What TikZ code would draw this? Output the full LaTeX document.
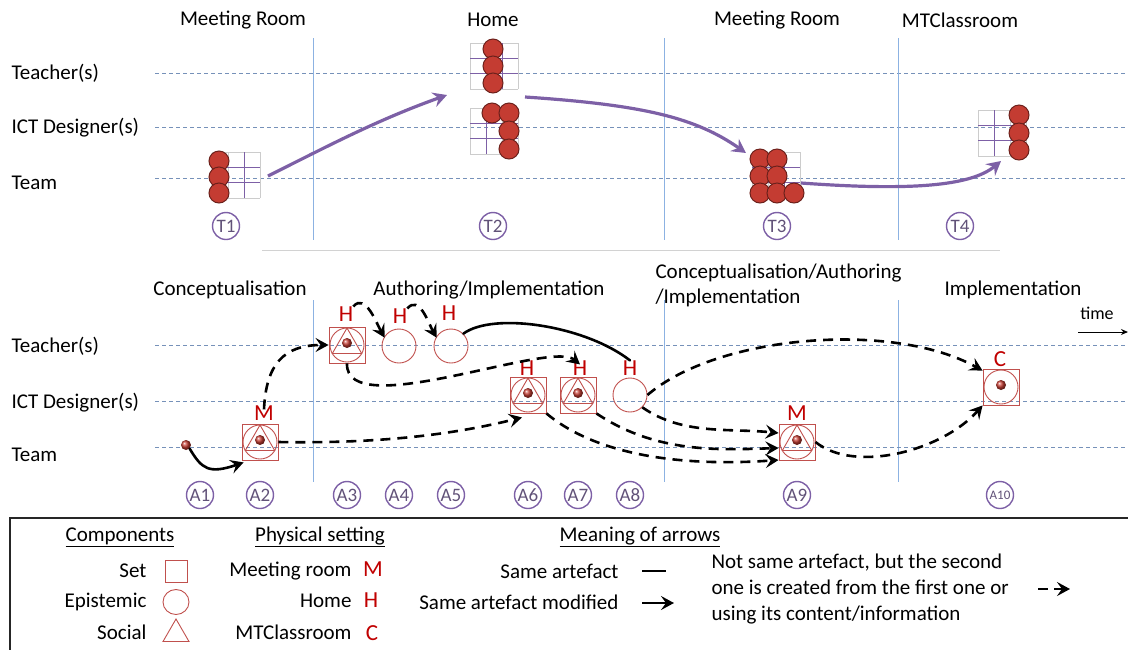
\documentclass[tikz,border=0pt]{standalone}
\usepackage{fontspec}
\setmainfont{Carlito}
\usetikzlibrary{arrows.meta,shapes.geometric,calc}

\definecolor{rowblue}{RGB}{118,145,185}
\definecolor{sepblue}{RGB}{140,178,226}
\definecolor{purp}{RGB}{125,96,166}
\definecolor{artred}{RGB}{192,80,77}
\definecolor{ballred}{RGB}{196,60,50}
\definecolor{letred}{RGB}{192,0,0}

\begin{document}
\begin{tikzpicture}[x=1pt,y=-1pt,
    font=\fontsize{21}{25}\selectfont,
    rowline/.style={rowblue, line width=0.8pt, dash pattern=on 4pt off 3pt},
    sepline/.style={sepblue, line width=0.9pt},
    tlabel/.style={circle, draw=purp, line width=1.4pt, minimum size=27pt, inner sep=0pt,
      text=purp!55!darkgray, font=\fontsize{19}{19}\selectfont},
    ball/.style={circle, draw=ballred!55!black, fill=ballred, line width=1pt, minimum size=20pt, inner sep=0pt},
    gridline/.style={gray!40, line width=0.6pt},
    gridpurp/.style={purp, line width=1pt},
    purparrow/.style={purp, line width=3.2pt, -{Stealth[length=14pt,width=15pt,inset=5pt]}},
    artline/.style={artred, line width=0.9pt},
    artset/.style={rectangle, draw=artred, line width=0.9pt, minimum size=36pt, inner sep=0pt,
      path picture={
        \coordinate (pc) at (path picture bounding box.center);
        \draw[artline] (pc) circle[radius=17pt];
        \shade[ball color=ballred] ($(pc)+(0pt,2pt)$) circle[radius=5pt];
      }},
    artsoc/.style={rectangle, draw=artred, line width=0.9pt, minimum size=36pt, inner sep=0pt,
      path picture={
        \coordinate (pc) at (path picture bounding box.center);
        \draw[artline] (pc) circle[radius=17pt];
        \draw[artline] ($(pc)+(0pt,17pt)$) -- ($(pc)+(-14.7pt,-8.5pt)$) -- ($(pc)+(14.7pt,-8.5pt)$) -- cycle;
        \shade[ball color=ballred] ($(pc)+(0pt,2pt)$) circle[radius=5pt];
      }},
    epist/.style={circle, draw=artred, line width=0.9pt, minimum size=34pt, inner sep=0pt},
    dot/.style={circle, ball color=ballred, minimum size=10pt, inner sep=0pt},
    place/.style={text=letred, font=\fontsize{23}{23}\selectfont, inner sep=0pt},
    same/.style={line width=2.6pt, line cap=round},
    modif/.style={same, -{Stealth[length=13pt,width=14pt,inset=5pt]}},
    derived/.style={modif, line cap=butt, dash pattern=on 10pt off 7pt}
  ]
  \useasboundingbox (0,0) rectangle (1128,649);

  % Titulos de arriba
  \node (h1) at (243,20) {Meeting Room};
  \node (h2) at (493,20) {Home};
  \node (h3top) at (777,20) {Meeting Room};
  \node (h4top) at (960,20) {MTClassroom};

  % Filas de arriba
  \node[anchor=west] (teach1) at (8,73) {Teacher(s)};
  \node[anchor=west] (ict1) at (8,128) {ICT Designer(s)};
  \node[anchor=west] (team1) at (8,183) {Team};
  \draw[rowline] (155,73) -- (1128,73);
  \draw[rowline] (155,127) -- (1128,127);
  \draw[rowline] (155,178) -- (1128,178);

  % Separadores
  \foreach \sx in {313,664,898} {
    \draw[sepline] (\sx,38) -- (\sx,240);
    \draw[sepline] (\sx,300) -- (\sx,482);
  }
  \draw[gray!35, line width=0.8pt] (262,250) -- (1000,250);

  % Rejillas de los grupos
  \foreach \gx/\gy/\gv in {212/152/2, 470/43/2, 470/108/1, 752/152/2, 978/110/1} {
    \foreach \i in {0,...,3} {
      \draw[gridline] (\gx+16*\i,\gy) -- ++(0,46);
      \draw[gridline] (\gx,\gy+15.33*\i) -- ++(48,0);
    }
    \draw[gridpurp] (\gx,\gy+15.33) -- ++(48,0);
    \draw[gridpurp] (\gx,\gy+30.67) -- ++(48,0);
    \draw[gridpurp] (\gx+16*\gv,\gy) -- ++(0,46);
  }

  % Personas
  \foreach \p [count=\k] in {(219,161),(219,177),(219,193)}
    \node[ball] (pa\k) at \p {};
  \foreach \p [count=\k] in {(493,49),(493,66),(493,83)}
    \node[ball] (pb\k) at \p {};
  \foreach \p [count=\k] in {(492,113),(509,113),(509,131),(509,149)}
    \node[ball] (pc\k) at \p {};
  \foreach \p [count=\k] in {(760,159),(777,159),(760,176),(777,176),(760,193),(777,193),(794,193)}
    \node[ball] (pd\k) at \p {};
  \foreach \p [count=\k] in {(1019,115),(1019,133),(1019,150)}
    \node[ball] (pe\k) at \p {};

  % Flechas moradas
  \coordinate (g1out) at (268,176);
  \coordinate (g2in) at (447,95);
  \coordinate (g2out) at (525,97);
  \coordinate (g3in) at (746,153);
  \coordinate (g3out) at (801,183);
  \coordinate (g4in) at (1001,161);
  \draw[purparrow] (g1out) .. controls +(60,-30) and +(-70,25) .. (g2in);
  \draw[purparrow] (g2out) .. controls +(120,8) and +(-50,-35) .. (g3in);
  \draw[purparrow] (g3out) .. controls +(110,8) and +(-30,25) .. (g4in);

  % Etiquetas T
  \node[tlabel] (t1) at (226,226) {T1};
  \node[tlabel] (t2) at (493,226) {T2};
  \node[tlabel] (t3) at (777,226) {T3};
  \node[tlabel] (t4) at (960,226) {T4};

  % Titulos de abajo
  \node (c1) at (230,290) {Conceptualisation};
  \node (c2) at (489,290) {Authoring/Implementation};
  \node[anchor=west, align=left] (c3) at (652,285) {Conceptualisation/Authoring\\/Implementation};
  \node (c4) at (1013,290) {Implementation};
  \node[font=\fontsize{18}{18}\selectfont] (time) at (1097,313) {time};
  \coordinate (time0) at (1078,332);
  \coordinate (time1) at (1128,332);
  \draw[line width=1pt, -{Stealth[length=7pt,width=6pt]}] (time0) -- (time1);

  % Filas de abajo
  \node[anchor=west] (teach2) at (8,346) {Teacher(s)};
  \node[anchor=west] (ict2) at (8,403) {ICT Designer(s)};
  \node[anchor=west] (team2) at (8,455) {Team};
  \draw[rowline] (155,345) -- (1128,345);
  \draw[rowline] (155,401) -- (1128,401);
  \draw[rowline] (155,447) -- (1128,447);

  % Artefactos
  \node[dot] (a1) at (186,445) {};
  \node[artsoc] (a2) at (260,442) {};
  \node[artsoc] (a3) at (347,345) {};
  \node[epist] (a4) at (399,346) {};
  \node[epist] (a5) at (451,346) {};
  \node[artsoc] (a6) at (528,395) {};
  \node[artsoc] (a7) at (578,395) {};
  \node[epist] (a8) at (630,395) {};
  \node[artsoc] (a9) at (797,442) {};
  \node[artset] (a10) at (1001,387) {};

  % Lugares
  \node[place] (m2) at (264,413) {M};
  \node[place] (h3) at (346,314) {H};
  \node[place] (h4) at (400,316) {H};
  \node[place] (h5) at (449,313) {H};
  \node[place] (h6) at (527,368) {H};
  \node[place] (h7) at (580,368) {H};
  \node[place] (h8) at (630,368) {H};
  \node[place] (m9) at (797,413) {M};
  \node[place] (c10) at (1000,359) {C};

  % Flechas
  \draw[modif] (a1.south east) .. controls +(12,20) and +(-35,12) .. ([xshift=2pt,yshift=-2pt]a2.south west);
  \draw[derived] ([yshift=-4pt]m2.north) .. controls +(2,-45) and +(-45,0) .. (a3.west);
  \draw[derived] (a2.east) .. controls +(110,2) and +(-60,15) .. ([xshift=-6pt,yshift=-4pt]a6.south);
  \draw[derived] (h3.north east) .. controls +(12,-14) and +(-8,-14) .. ([xshift=-2pt,yshift=-4pt]a4.north west);
  \draw[derived] (h4.north east) .. controls +(12,-14) and +(-8,-14) .. ([xshift=-2pt,yshift=-4pt]a5.north west);
  \draw[same] (a5.north east) .. controls +(30,-22) and +(-45,-35) .. (h8.north);
  \draw[derived] (a3.south) .. controls +(-2,60) and +(-30,-25) .. ([yshift=-4pt]h7.north);
  \draw[derived] (a8.east) .. controls +(70,-60) and +(-90,-50) .. ([yshift=-2pt]a10.north west);
  \draw[derived] (a8.south east) .. controls +(40,28) and +(-50,-5) .. ([yshift=9pt]a9.west);
  \draw[derived] (a7.south east) .. controls +(60,40) and +(-60,2) .. ([yshift=-6pt]a9.west);
  \draw[derived] (a6.south east) .. controls +(60,50) and +(-70,5) .. ([yshift=-18pt]a9.west);
  \draw[derived] (a9.east) .. controls +(40,32) and +(-40,45) .. (a10.south west);

  % Etiquetas A
  \foreach \lx/\ln in {200/A1, 260/A2, 347/A3, 399/A4, 451/A5, 528/A6, 578/A7, 630/A8, 797/A9}
    \node[tlabel] (l\ln) at (\lx,495) {\ln};
  \node[tlabel, font=\fontsize{13}{13}\selectfont] (lA10) at (1000,495) {A10};

  % Leyenda
  \draw[black!85, line width=2pt] (1135,518) -- (10,518) -- (10,655);
  \node (comp) at (120,537) {\underline{Components}};
  \node (phys) at (320,537) {\underline{Physical setting}};
  \node (mean) at (640,537) {\underline{Meaning of arrows}};
  \node[anchor=east] (kset) at (150,571) {Set};
  \node[anchor=east] (kepi) at (150,602) {Epistemic};
  \node[anchor=east] (ksoc) at (150,632) {Social};
  \node[rectangle, draw=artred, line width=0.9pt, minimum size=22pt, inner sep=0pt] (sset) at (176,571) {};
  \node[ellipse, draw=artred, line width=0.9pt, minimum width=26pt, minimum height=25pt, inner sep=0pt] (sepi) at (176,602) {};
  \node[regular polygon, regular polygon sides=3, draw=artred, line width=0.9pt, minimum size=30pt, inner sep=0pt] (ssoc) at (176,634) {};
  \node[anchor=east] (kmeet) at (355,571) {Meeting room};
  \node[anchor=east] (khome) at (355,601) {Home};
  \node[anchor=east] (kclass) at (355,632) {MTClassroom};
  \node[place] (smeet) at (373,569) {M};
  \node[place] (shome) at (371,600) {H};
  \node[place] (sclass) at (372,633) {C};
  \node[anchor=east] (ksame) at (622,571) {Same artefact};
  \node[anchor=east] (kmod) at (622,602) {Same artefact modified};
  \node[anchor=west, align=left, font=\fontsize{21}{26}\selectfont] (knot) at (708,589)
    {Not same artefact, but the second\\one is created from the first one or\\using its content/information};
  \coordinate (s0) at (642,571);
  \coordinate (s1) at (666,571);
  \coordinate (m0) at (642,603);
  \coordinate (m1) at (674,603);
  \coordinate (d0) at (1038,589);
  \coordinate (d1) at (1070,589);
  \draw[same, line cap=butt] (s0) -- (s1);
  \draw[modif, line cap=butt] (m0) -- (m1);
  \draw[modif, line cap=butt, dash pattern=on 10pt off 6pt] (d0) -- (d1);
\end{tikzpicture}
\end{document}
